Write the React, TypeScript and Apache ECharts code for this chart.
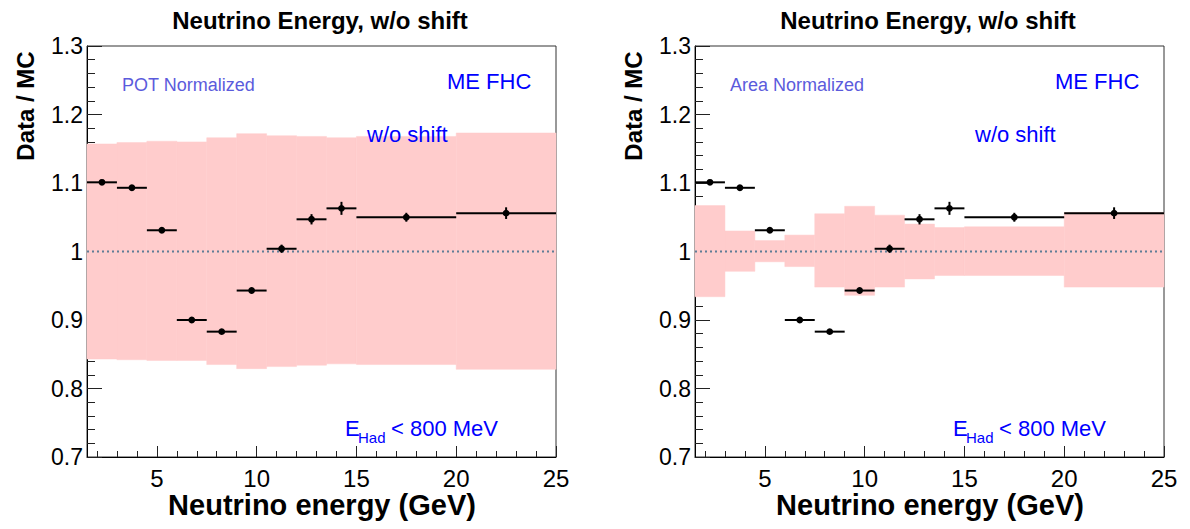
import React, { useEffect, useRef } from "react";
import * as echarts from "echarts";

// ---- data ----
const binEdges = [1.5, 3, 4.5, 6, 7.5, 9, 10.5, 12, 13.5, 15, 20, 25];
const binCenters = [2.25, 3.75, 5.25, 6.75, 8.25, 9.75, 11.25, 12.75, 14.25, 17.5, 22.5];
const dataMcRatio = [1.101, 1.093, 1.031, 0.9, 0.883, 0.943, 1.004, 1.047, 1.063, 1.05, 1.056];
const ratioErr = [0.003, 0.003, 0.003, 0.003, 0.003, 0.004, 0.006, 0.0075, 0.0095, 0.0065, 0.0085];
const potBandLow = [0.843, 0.842, 0.841, 0.841, 0.835, 0.829, 0.832, 0.834, 0.836, 0.835, 0.828];
const potBandHigh = [1.157, 1.159, 1.161, 1.16, 1.166, 1.172, 1.169, 1.168, 1.166, 1.168, 1.173];
const areaBandLow = [0.934, 0.971, 0.985, 0.978, 0.948, 0.936, 0.948, 0.96, 0.965, 0.965, 0.948];
const areaBandHigh = [1.067, 1.03, 1.016, 1.024, 1.055, 1.066, 1.053, 1.04, 1.035, 1.036, 1.057];

const yMajorTicks = [0.7, 0.8, 0.9, 1, 1.1, 1.2, 1.3];
const yMinorTicks = [
  0.72, 0.74, 0.76, 0.78, 0.82, 0.84, 0.86, 0.88, 0.92, 0.94, 0.96, 0.98,
  1.02, 1.04, 1.06, 1.08, 1.12, 1.14, 1.16, 1.18, 1.22, 1.24, 1.26, 1.28,
];
const xMajorTicks = [5, 10, 15, 20, 25];
const xMinorTicks = [2, 3, 4, 6, 7, 8, 9, 11, 12, 13, 14, 16, 17, 18, 19, 21, 22, 23, 24];

const panels = [
  { norm: "POT Normalized", low: potBandLow, high: potBandHigh },
  { norm: "Area Normalized", low: areaBandLow, high: areaBandHigh },
];

const FONT = "Liberation Sans, Arial, Helvetica, sans-serif";
const X_MIN = binEdges[0];
const X_MAX = binEdges[binEdges.length - 1];

export default function App() {
  const ref = useRef<HTMLDivElement>(null);

  useEffect(() => {
    if (!ref.current) return;
    const chart = echarts.init(ref.current, null, { renderer: "svg" });

    const PANEL_DX = 608;
    const grids: any[] = [];
    const xAxes: any[] = [];
    const yAxes: any[] = [];
    const series: any[] = [];
    const graphics: any[] = [];

    panels.forEach((p, i) => {
      const dx = i * PANEL_DX;
      grids.push({
        left: 87 + dx,
        top: 46,
        width: 469,
        height: 411,
        show: true,
        borderColor: "#333",
        borderWidth: 1,
        backgroundColor: "transparent",
      });
      xAxes.push({
        type: "value",
        gridIndex: i,
        min: X_MIN,
        max: X_MAX,
        position: "bottom",
        axisLine: { show: true, onZero: false, lineStyle: { color: "#000", width: 1 } },
        axisTick: { show: true, inside: true, length: 11, customValues: xMajorTicks, lineStyle: { color: "#222" } },
        axisLabel: {
          show: true,
          customValues: xMajorTicks,
          margin: 9,
          fontSize: 24,
          fontFamily: FONT,
          color: "#000",
        },
        splitLine: { show: false },
      });
      xAxes.push({
        type: "value",
        gridIndex: i,
        min: X_MIN,
        max: X_MAX,
        position: "bottom",
        offset: 0,
        axisLine: { show: false, onZero: false },
        axisTick: { show: true, inside: true, length: 6, customValues: xMinorTicks, lineStyle: { color: "#222" } },
        axisLabel: { show: false },
        splitLine: { show: false },
      });
      yAxes.push({
        type: "value",
        gridIndex: i,
        min: 0.7,
        max: 1.3,
        position: "left",
        axisLine: { show: true, onZero: false, lineStyle: { color: "#000", width: 1 } },
        axisTick: { show: true, inside: true, length: 15, customValues: yMajorTicks, lineStyle: { color: "#222" } },
        axisLabel: {
          show: true,
          customValues: yMajorTicks,
          margin: 4,
          fontSize: 23,
          fontFamily: FONT,
          color: "#000",
          formatter: (v: number) => String(Math.round(v * 10) / 10),
        },
        splitLine: { show: false },
      });
      yAxes.push({
        type: "value",
        gridIndex: i,
        min: 0.7,
        max: 1.3,
        position: "left",
        offset: 0,
        axisLine: { show: false, onZero: false },
        axisTick: { show: true, inside: true, length: 8, customValues: yMinorTicks, lineStyle: { color: "#222" } },
        axisLabel: { show: false },
        splitLine: { show: false },
      });

      const xi = i * 2;
      const yi = i * 2;

      const bandData = binCenters.map((_, k) => [binEdges[k], binEdges[k + 1], p.low[k], p.high[k]]);
      series.push({
        type: "custom",
        xAxisIndex: xi,
        yAxisIndex: yi,
        z: 1,
        silent: true,
        encode: { x: [0, 1], y: [2, 3] },
        data: bandData,
        renderItem: (params: any, api: any) => {
          const a = api.coord([api.value(0), api.value(3)]);
          const b = api.coord([api.value(1), api.value(2)]);
          return {
            type: "rect",
            shape: { x: a[0], y: a[1], width: b[0] - a[0], height: b[1] - a[1] },
            style: { fill: "#ffcccc", stroke: "#ffcccc", lineWidth: 0.5 },
          };
        },
      });

      series.push({
        type: "line",
        xAxisIndex: xi,
        yAxisIndex: yi,
        z: 2,
        silent: true,
        symbol: "none",
        data: [
          [X_MIN, 1],
          [X_MAX, 1],
        ],
        lineStyle: { color: "#5f7d96", width: 2, type: [2, 3] },
      });

      const ptData = binCenters.map((c, k) => [c, dataMcRatio[k], binEdges[k], binEdges[k + 1], ratioErr[k]]);
      series.push({
        type: "custom",
        xAxisIndex: xi,
        yAxisIndex: yi,
        z: 3,
        silent: true,
        encode: { x: 0, y: 1 },
        data: ptData,
        renderItem: (params: any, api: any) => {
          const xc = api.value(0);
          const y = api.value(1);
          const e = api.value(4);
          const pl = api.coord([api.value(2), y]);
          const ph = api.coord([api.value(3), y]);
          const pc = api.coord([xc, y]);
          const pt = api.coord([xc, y + e]);
          const pb = api.coord([xc, y - e]);
          return {
            type: "group",
            children: [
              { type: "line", shape: { x1: pl[0], y1: pl[1], x2: ph[0], y2: ph[1] }, style: { stroke: "#000", lineWidth: 2 } },
              { type: "line", shape: { x1: pt[0], y1: pt[1], x2: pb[0], y2: pb[1] }, style: { stroke: "#000", lineWidth: 2 } },
              { type: "circle", shape: { cx: pc[0], cy: pc[1], r: 3.4 }, style: { fill: "#000" } },
            ],
          };
        },
      });

      graphics.push(
        {
          type: "text",
          z: 100,
          x: 320 + dx,
          y: 20,
          style: { text: "Neutrino Energy, w/o shift", font: `bold 24px ${FONT}`, fill: "#000", align: "center", verticalAlign: "middle" },
        },
        {
          type: "text",
          z: 100,
          x: 322 + dx,
          y: 505,
          style: { text: "Neutrino energy (GeV)", font: `bold 29px ${FONT}`, fill: "#000", align: "center", verticalAlign: "middle" },
        },
        {
          type: "text",
          z: 100,
          x: 25 + dx,
          y: 106,
          rotation: Math.PI / 2,
          style: { text: "Data / MC", font: `bold 24px ${FONT}`, fill: "#000", align: "center", verticalAlign: "middle" },
        },
        {
          type: "text",
          z: 100,
          x: 122 + dx,
          y: 85,
          style: { text: p.norm, font: `18px ${FONT}`, fill: "#5b5bdc", align: "left", verticalAlign: "middle" },
        },
        {
          type: "text",
          z: 100,
          x: 447 + dx,
          y: 81,
          style: { text: "ME FHC", font: `22px ${FONT}`, fill: "#0000ff", align: "left", verticalAlign: "middle" },
        },
        {
          type: "text",
          z: 100,
          x: 367 + dx,
          y: 134,
          style: { text: "w/o shift", font: `22px ${FONT}`, fill: "#0000ff", align: "left", verticalAlign: "middle" },
        },
        {
          type: "text",
          z: 100,
          x: 345 + dx,
          y: 428,
          style: { text: "E", font: `22px ${FONT}`, fill: "#0000ff", align: "left", verticalAlign: "middle" },
        },
        {
          type: "text",
          z: 100,
          x: 358 + dx,
          y: 437,
          style: { text: "Had", font: `15px ${FONT}`, fill: "#0000ff", align: "left", verticalAlign: "middle" },
        },
        {
          type: "text",
          z: 100,
          x: 391 + dx,
          y: 428,
          style: { text: "< 800 MeV", font: `22px ${FONT}`, fill: "#0000ff", align: "left", verticalAlign: "middle" },
        }
      );
    });

    chart.setOption({
      animation: false,
      backgroundColor: "#fff",
      grid: grids,
      xAxis: xAxes,
      yAxis: yAxes,
      series,
      graphic: graphics,
    });

    return () => chart.dispose();
  }, []);

  return (
    <div
      ref={ref}
      style={{ position: "fixed", left: 0, top: 0, width: 1190, height: 529, background: "#fff" }}
    />
  );
}
